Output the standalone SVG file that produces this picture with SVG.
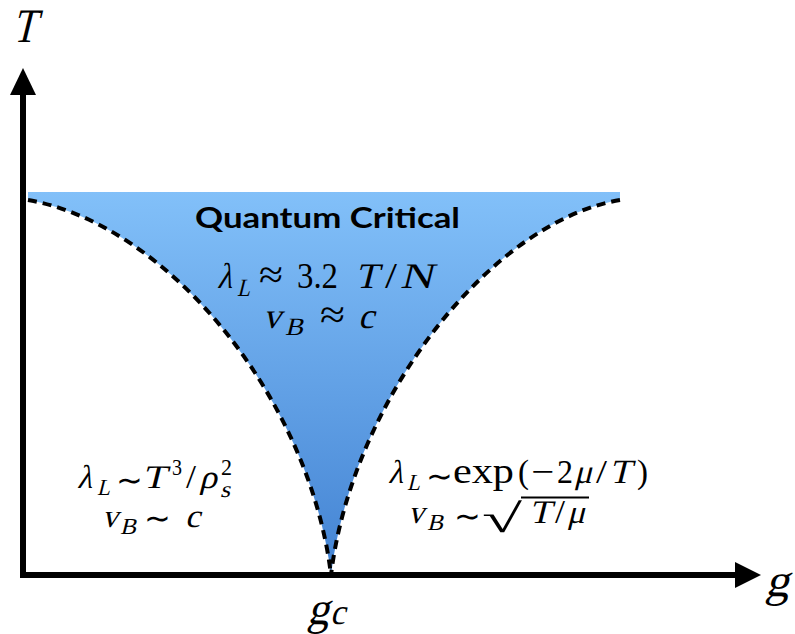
<svg xmlns="http://www.w3.org/2000/svg" width="795" height="634" viewBox="0 0 795 634">
<style>
.m{font-family:"Liberation Serif","Times New Roman",serif;fill:#000}
.t{font-family:"DejaVu Sans",sans-serif;font-size:32px;fill:#000}
.axis{stroke:#000;stroke-width:6;fill:none}
.bd{fill:none;stroke:#000;stroke-width:4;stroke-dasharray:9 6}
</style>
<defs>
<linearGradient id="bg" x1="0" y1="192" x2="0" y2="575" gradientUnits="userSpaceOnUse">
<stop offset="0" stop-color="#82c0f9"/>
<stop offset="1" stop-color="#4383d3"/>
</linearGradient>
</defs>
<g id="region-quantum-critical">
<path d="M28 192 L620 192 L620 200 C490 222 352 400 331 575 C310 400 170 225 28 200 Z" fill="url(#bg)"/>
</g>
<g id="connectors">
<line class="axis" x1="23" y1="578" x2="23" y2="92"/>
<polygon points="23,68 10,95 36,95" fill="#000"/>
<line class="axis" x1="20" y1="575" x2="738" y2="575"/>
<polygon points="761,575 735,562 735,588" fill="#000"/>
<path class="bd" d="M28 200 C170 225 310 400 331 575"/>
<path class="bd" d="M620 200 C490 222 352 400 331 575"/>
</g>
<g id="axis-labels">
<text class="m" transform="translate(12 42) skewX(-14)" font-size="48" textLength="24" lengthAdjust="spacingAndGlyphs">T</text>
<text class="m" transform="translate(765 596) skewX(-14)" font-size="46" textLength="24" lengthAdjust="spacingAndGlyphs">g</text>
<text class="m" transform="translate(307 624) skewX(-14)" font-size="46" textLength="22" lengthAdjust="spacingAndGlyphs">g</text>
<text class="m" transform="translate(330 624) skewX(-14)" font-size="36" textLength="15" lengthAdjust="spacingAndGlyphs">c</text>
</g>
<g id="label-qc">
<text x="195" y="228" font-family="Lato,'Noto Sans',sans-serif" font-weight="bold" font-size="29" textLength="265" lengthAdjust="spacingAndGlyphs">Quantum Critical</text>
<text class="m" transform="translate(217 288) skewX(-14)" font-size="36" textLength="15" lengthAdjust="spacingAndGlyphs">λ</text>
<text class="m" transform="translate(237 296) skewX(-14)" font-size="25" textLength="13" lengthAdjust="spacingAndGlyphs">L</text>
<text class="m" x="259" y="288" font-size="40" textLength="24" lengthAdjust="spacingAndGlyphs">≈</text>
<text class="m" x="297" y="288" font-size="36" textLength="41" lengthAdjust="spacingAndGlyphs">3.2</text>
<text class="m" transform="translate(355 288) skewX(-14)" font-size="36" textLength="23" lengthAdjust="spacingAndGlyphs">T</text>
<text class="m" x="385" y="288" font-size="36" textLength="12" lengthAdjust="spacingAndGlyphs">/</text>
<text class="m" transform="translate(400 288) skewX(-14)" font-size="36" textLength="33" lengthAdjust="spacingAndGlyphs">N</text>
<text class="m" transform="translate(263 328) skewX(-14)" font-size="36" textLength="18" lengthAdjust="spacingAndGlyphs">v</text>
<text class="m" transform="translate(285 335) skewX(-14)" font-size="25" textLength="18" lengthAdjust="spacingAndGlyphs">B</text>
<text class="m" x="320" y="328" font-size="40" textLength="25" lengthAdjust="spacingAndGlyphs">≈</text>
<text class="m" transform="translate(358 328) skewX(-14)" font-size="36" textLength="16" lengthAdjust="spacingAndGlyphs">c</text>
</g>
<g id="label-left">
<text class="m" transform="translate(77 488) skewX(-14)" font-size="33" textLength="15" lengthAdjust="spacingAndGlyphs">λ</text>
<text class="m" transform="translate(97 495) skewX(-14)" font-size="23" textLength="13" lengthAdjust="spacingAndGlyphs">L</text>
<text class="t" x="116" y="491">∼</text>
<text class="m" transform="translate(142 488) skewX(-14)" font-size="33" textLength="24" lengthAdjust="spacingAndGlyphs">T</text>
<text class="m" x="172" y="475" font-size="23" textLength="10" lengthAdjust="spacingAndGlyphs">3</text>
<text class="m" x="186" y="488" font-size="33" textLength="10" lengthAdjust="spacingAndGlyphs">/</text>
<text class="m" transform="translate(199 488) skewX(-14)" font-size="33" textLength="18" lengthAdjust="spacingAndGlyphs">ρ</text>
<text class="m" x="221" y="475" font-size="23" textLength="11" lengthAdjust="spacingAndGlyphs">2</text>
<text class="m" transform="translate(220 497) skewX(-14)" font-size="23" textLength="10" lengthAdjust="spacingAndGlyphs">s</text>
<text class="m" transform="translate(102 527) skewX(-14)" font-size="33" textLength="16" lengthAdjust="spacingAndGlyphs">v</text>
<text class="m" transform="translate(120 534) skewX(-14)" font-size="23" textLength="16" lengthAdjust="spacingAndGlyphs">B</text>
<text class="t" x="144" y="529">∼</text>
<text class="m" transform="translate(185 527) skewX(-14)" font-size="33" textLength="15" lengthAdjust="spacingAndGlyphs">c</text>
</g>
<g id="label-right">
<text class="m" transform="translate(388 483) skewX(-14)" font-size="33" textLength="15" lengthAdjust="spacingAndGlyphs">λ</text>
<text class="m" transform="translate(407 490) skewX(-14)" font-size="23" textLength="13" lengthAdjust="spacingAndGlyphs">L</text>
<text class="t" x="426" y="487">∼</text>
<text class="m" x="453" y="483" font-size="36" textLength="61" lengthAdjust="spacingAndGlyphs">exp</text>
<text class="m" x="518" y="483" font-size="34" textLength="11" lengthAdjust="spacingAndGlyphs">(</text>
<text class="m" x="531" y="483" font-size="34" textLength="23" lengthAdjust="spacingAndGlyphs">−</text>
<text class="m" x="557" y="483" font-size="34" textLength="16" lengthAdjust="spacingAndGlyphs">2</text>
<text class="m" transform="translate(574 483) skewX(-14)" font-size="34" textLength="18" lengthAdjust="spacingAndGlyphs">μ</text>
<text class="m" x="596" y="483" font-size="34" textLength="11" lengthAdjust="spacingAndGlyphs">/</text>
<text class="m" transform="translate(609 483) skewX(-14)" font-size="34" textLength="22" lengthAdjust="spacingAndGlyphs">T</text>
<text class="m" x="637" y="483" font-size="34" textLength="11" lengthAdjust="spacingAndGlyphs">)</text>
<text class="m" transform="translate(408 523) skewX(-14)" font-size="33" textLength="16" lengthAdjust="spacingAndGlyphs">v</text>
<text class="m" transform="translate(427 530) skewX(-14)" font-size="23" textLength="16" lengthAdjust="spacingAndGlyphs">B</text>
<text class="t" x="454" y="527">∼</text>
<text class="m" x="482" y="532" font-size="40" textLength="40" lengthAdjust="spacingAndGlyphs">√</text>
<line x1="521" y1="497.5" x2="589" y2="497.5" stroke="#000" stroke-width="1.8"/>
<text class="m" transform="translate(529 523) skewX(-14)" font-size="33" textLength="22" lengthAdjust="spacingAndGlyphs">T</text>
<text class="m" x="555" y="523" font-size="33" textLength="10" lengthAdjust="spacingAndGlyphs">/</text>
<text class="m" transform="translate(567 523) skewX(-14)" font-size="33" textLength="18" lengthAdjust="spacingAndGlyphs">μ</text>
</g>
</svg>
